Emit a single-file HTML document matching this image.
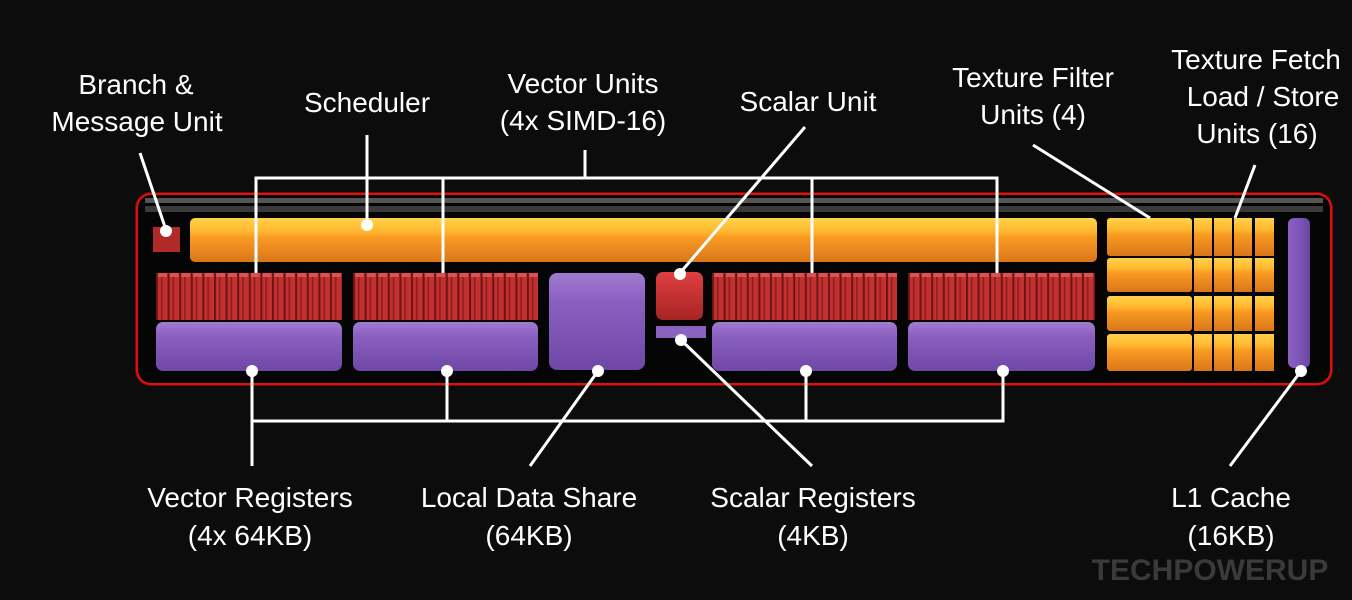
<!DOCTYPE html>
<html><head><meta charset="utf-8"><style>
html,body{margin:0;padding:0;background:#0c0c0c;}
svg{display:block}
text{font-family:"Liberation Sans",Arial,sans-serif;fill:#fff;font-size:28px;text-anchor:middle}
</style></head><body>
<svg width="1352" height="600" viewBox="0 0 1352 600" xmlns="http://www.w3.org/2000/svg">
<defs>
<linearGradient id="or" x1="0" y1="0" x2="0" y2="1">
<stop offset="0" stop-color="#ffd24a"/><stop offset="0.3" stop-color="#ffb830"/><stop offset="0.45" stop-color="#f99a22"/><stop offset="1" stop-color="#d9761a"/></linearGradient>
<linearGradient id="pu" x1="0" y1="0" x2="0" y2="1">
<stop offset="0" stop-color="#a07cd0"/><stop offset="0.3" stop-color="#8a5fc0"/><stop offset="1" stop-color="#6f47a6"/></linearGradient>
<linearGradient id="pu2" x1="0" y1="0" x2="1" y2="0">
<stop offset="0" stop-color="#8a60c2"/><stop offset="0.5" stop-color="#7d55b8"/><stop offset="1" stop-color="#6a45a0"/></linearGradient>
<linearGradient id="rd" x1="0" y1="0" x2="0" y2="1">
<stop offset="0" stop-color="#e04040"/><stop offset="1" stop-color="#a82424"/></linearGradient>
<pattern id="simd" x="156" y="273" width="11.6" height="47" patternUnits="userSpaceOnUse">
<rect width="11.6" height="47" fill="#c23030"/><rect x="0" width="2" height="47" fill="#6e1414"/><rect x="5" width="1.5" height="47" fill="#8a1c1c"/><rect x="2" y="0" width="9" height="4" fill="#e05050"/></pattern>
<pattern id="simd2" x="353" y="273" width="11.6" height="47" patternUnits="userSpaceOnUse">
<rect width="11.6" height="47" fill="#c23030"/><rect x="0" width="2" height="47" fill="#6e1414"/><rect x="5" width="1.5" height="47" fill="#8a1c1c"/><rect x="2" y="0" width="9" height="4" fill="#e05050"/></pattern>
<pattern id="simd3" x="712" y="273" width="11.6" height="47" patternUnits="userSpaceOnUse">
<rect width="11.6" height="47" fill="#c23030"/><rect x="0" width="2" height="47" fill="#6e1414"/><rect x="5" width="1.5" height="47" fill="#8a1c1c"/><rect x="2" y="0" width="9" height="4" fill="#e05050"/></pattern>
<pattern id="simd4" x="908" y="273" width="11.6" height="47" patternUnits="userSpaceOnUse">
<rect width="11.6" height="47" fill="#c23030"/><rect x="0" width="2" height="47" fill="#6e1414"/><rect x="5" width="1.5" height="47" fill="#8a1c1c"/><rect x="2" y="0" width="9" height="4" fill="#e05050"/></pattern>
</defs>
<rect width="1352" height="600" fill="#0c0c0c"/>
<rect x="135" y="192" width="1198" height="194" rx="16" fill="#7a0a0a"/>
<rect x="137" y="194" width="1194" height="190" rx="14" fill="#050505" stroke="#e01010" stroke-width="2"/>
<rect x="145" y="198" width="1178" height="5" fill="#555"/>
<rect x="145" y="206" width="1178" height="6" fill="#3a3a3a"/>
<rect x="153" y="227" width="27" height="25" fill="#b02a2a"/>
<rect x="190" y="218" width="907" height="44" rx="5" fill="url(#or)"/>
<rect x="156" y="273" width="186" height="47" fill="url(#simd)"/>
<rect x="353" y="273" width="185" height="47" fill="url(#simd2)"/>
<rect x="712" y="273" width="185" height="47" fill="url(#simd3)"/>
<rect x="908" y="273" width="187" height="47" fill="url(#simd4)"/>
<rect x="156" y="322" width="186" height="49" rx="7" fill="url(#pu)"/>
<rect x="353" y="322" width="185" height="49" rx="7" fill="url(#pu)"/>
<rect x="712" y="322" width="185" height="49" rx="7" fill="url(#pu)"/>
<rect x="908" y="322" width="187" height="49" rx="7" fill="url(#pu)"/>
<rect x="549" y="273" width="96" height="97" rx="8" fill="url(#pu)"/>
<rect x="656" y="272" width="47" height="48" rx="7" fill="url(#rd)"/>
<rect x="656" y="326" width="50" height="12" fill="#8a62c0"/>
<g fill="url(#or)">
<rect x="1107" y="218" width="85" height="38" rx="3"/>
<rect x="1107" y="258" width="85" height="34" rx="3"/>
<rect x="1107" y="296" width="85" height="35" rx="3"/>
<rect x="1107" y="334" width="85" height="37" rx="3"/>
</g>
<g fill="url(#or)">
<rect x="1194" y="218" width="18" height="38"/><rect x="1214" y="218" width="18" height="38"/><rect x="1234" y="218" width="18" height="38"/><rect x="1255" y="218" width="19" height="38"/>
<rect x="1194" y="258" width="18" height="34"/><rect x="1214" y="258" width="18" height="34"/><rect x="1234" y="258" width="18" height="34"/><rect x="1255" y="258" width="19" height="34"/>
<rect x="1194" y="296" width="18" height="35"/><rect x="1214" y="296" width="18" height="35"/><rect x="1234" y="296" width="18" height="35"/><rect x="1255" y="296" width="19" height="35"/>
<rect x="1194" y="334" width="18" height="37"/><rect x="1214" y="334" width="18" height="37"/><rect x="1234" y="334" width="18" height="37"/><rect x="1255" y="334" width="19" height="37"/>
</g>
<rect x="1288" y="218" width="22" height="150" rx="6" fill="url(#pu2)"/>
<g stroke="#fff" stroke-width="3" fill="none">
<polyline points="256,273 256,178 997,178 997,273"/>
<line x1="443" y1="178" x2="443" y2="273"/>
<line x1="812" y1="178" x2="812" y2="273"/>
<line x1="585" y1="178" x2="585" y2="150"/>
<line x1="367" y1="135" x2="367" y2="224"/>
<line x1="140" y1="153" x2="166" y2="230"/>
<line x1="805" y1="127" x2="680" y2="273"/>
<line x1="1033" y1="145" x2="1150" y2="218"/>
<line x1="1255" y1="165" x2="1235" y2="218"/>
<polyline points="252,371 252,421 1003,421 1003,371"/>
<line x1="447" y1="371" x2="447" y2="421"/>
<line x1="806" y1="371" x2="806" y2="421"/>
<line x1="252" y1="421" x2="252" y2="466"/>
<line x1="598" y1="371" x2="530" y2="466"/>
<line x1="681" y1="340" x2="812" y2="466"/>
<line x1="1301" y1="371" x2="1230" y2="466"/>
</g>
<g fill="#fff">
<circle cx="166" cy="231" r="6"/><circle cx="367" cy="225" r="6"/><circle cx="680" cy="274" r="6"/>
<circle cx="252" cy="371" r="6"/><circle cx="447" cy="371" r="6"/><circle cx="598" cy="371" r="6"/>
<circle cx="681" cy="340" r="6"/><circle cx="806" cy="371" r="6"/><circle cx="1003" cy="371" r="6"/><circle cx="1301" cy="371" r="6"/>
</g>
<text x="136" y="94">Branch &amp;</text>
<text x="137" y="131">Message Unit</text>
<text x="367" y="112">Scheduler</text>
<text x="583" y="93">Vector Units</text>
<text x="583" y="130">(4x SIMD-16)</text>
<text x="808" y="111">Scalar Unit</text>
<text x="1033" y="87">Texture Filter</text>
<text x="1033" y="124">Units (4)</text>
<text x="1256" y="69">Texture Fetch</text>
<text x="1263" y="106">Load / Store</text>
<text x="1257" y="143">Units (16)</text>
<text x="250" y="507">Vector Registers</text>
<text x="250" y="545">(4x 64KB)</text>
<text x="529" y="507">Local Data Share</text>
<text x="529" y="545">(64KB)</text>
<text x="813" y="507">Scalar Registers</text>
<text x="813" y="545">(4KB)</text>
<text x="1231" y="507">L1 Cache</text>
<text x="1231" y="545">(16KB)</text>
<text x="1210" y="580" style="font-size:30px;font-weight:bold;fill:#3a3a3a">TECHPOWERUP</text>
</svg>
</body></html>
